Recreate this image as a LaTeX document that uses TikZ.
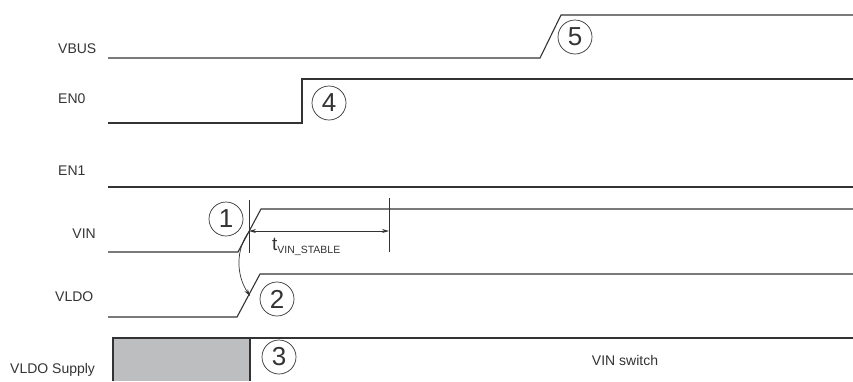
\documentclass[tikz,border=0pt]{standalone}
\usepackage{fontspec}
\setmainfont{Liberation Sans}
\usetikzlibrary{arrows.meta}
\definecolor{sig}{HTML}{333333}
\definecolor{boxgray}{HTML}{BDBEC0}
\tikzset{
  wave/.style={draw=sig, line width=1.1pt},
  lbl/.style={font=\fontsize{14}{16}\selectfont, text=sig, inner sep=0pt},
  num/.style={circle, draw=sig, line width=0.7pt, minimum size=34pt, inner sep=0pt, font=\fontsize{26}{28}\selectfont, text=sig},
  marker/.style={draw=sig, line width=0.7pt},
  dimarrow/.style={draw=sig, line width=0.7pt, {Stealth[length=7pt,width=4pt]}-{Stealth[length=7pt,width=4pt]}},
}
\begin{document}
\begin{tikzpicture}[x=1pt,y=-1pt]
\useasboundingbox (0,0) rectangle (853,381);
% labels
\node[lbl, anchor=west] (lvbus) at (58,49) {VBUS};
\node[lbl, anchor=west] (len0) at (58,99) {EN0};
\node[lbl, anchor=west] (len1) at (58,171) {EN1};
\node[lbl, anchor=east] (lvin) at (96,234) {VIN};
\node[lbl, anchor=west] (lvldo) at (55,297) {VLDO};
\node[lbl, anchor=west] (lsup) at (10,370) {VLDO Supply};
% VBUS
\draw[wave] (108,58) -- (540,58) -- (561,15) -- (853,15);
% EN0
\draw[wave] (108,123) -- (302,123) -- (302,79) -- (853,79);
% EN1
\draw[wave] (108,187) -- (853,187);
% VIN
\draw[wave] (108,252) -- (238,252) -- (261,209) -- (853,209);
% VLDO
\draw[wave] (108,317) -- (237,317) -- (260,274) -- (853,274);
% VLDO Supply
\fill[boxgray] (113,338) rectangle (250,381);
\draw[wave] (113,381) -- (113,338) -- (853,338);
\draw[wave] (250,338) -- (250,381);
\node[lbl] (vsw) at (625,360) {VIN switch};
% markers
\coordinate (m1t) at (249,200);
\coordinate (m1b) at (249,253);
\coordinate (m2t) at (389,198);
\coordinate (m2b) at (389,252);
\draw[marker] (m1t) -- (m1b);
\draw[marker] (m2t) -- (m2b);
\coordinate (a1) at (249,231);
\coordinate (a2) at (389,231);
\draw[dimarrow] (a1) -- (a2);
\node[text=sig, inner sep=0pt, anchor=base west] (tlab) at (272,250) {\fontsize{19}{20}\selectfont t\raisebox{-3pt}{\fontsize{10.5}{12}\selectfont VIN\_STABLE}};
% curved arrow
\coordinate (c1) at (248,233);
\coordinate (c2) at (250,296);
\draw[draw=sig, line width=0.7pt, -{Stealth[length=7pt,width=4pt]}] (c1) .. controls (236,250) and (236,275) .. (c2);
% circled numbers
\node[num] (n1) at (226,219) {1};
\node[num] (n2) at (277,299) {2};
\node[num] (n3) at (279,357) {3};
\node[num] (n4) at (329,103) {4};
\node[num] (n5) at (575,37) {5};
\end{tikzpicture}
\end{document}
